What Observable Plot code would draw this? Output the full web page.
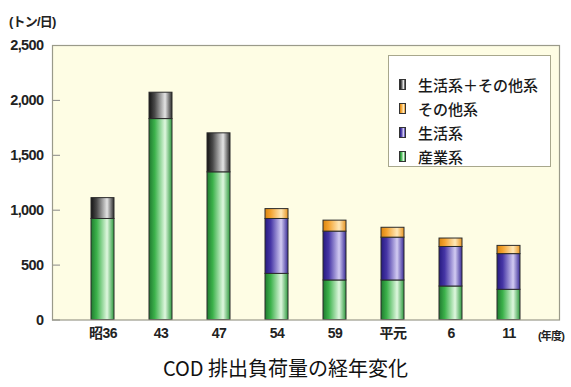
<!DOCTYPE html>
<html lang="ja">
<head>
<meta charset="utf-8">
<script src="https://cdn.jsdelivr.net/npm/d3@7"></script>
<script src="https://cdn.jsdelivr.net/npm/@observablehq/plot@0.6"></script>
<style>
  html, body { margin: 0; padding: 0; background: #fff; }
  #wrap { position: relative; width: 571px; height: 387px; overflow: hidden; }
  #wrap svg text { letter-spacing: -0.6px; }
  .unit { position: absolute; font-family: "Liberation Sans", "Noto Sans CJK JP", sans-serif; font-weight: bold; color: #222; white-space: nowrap; letter-spacing: -0.8px; }
  #legend { position: absolute; left: 388px; top: 55px; width: 163px; height: 112px; box-sizing: border-box;
            border: 1.5px solid #a8a78c; background: #fff; font-family: "Noto Sans CJK JP", sans-serif; font-size: 15px; font-weight: 500; color: #1a1a1a; }
  #legend .row { position: absolute; left: 10px; display: flex; align-items: center; height: 20px; }
  #legend .sw { width: 7px; height: 11px; border: 1px solid #333; margin-right: 12px; box-sizing: border-box; }
  #title { position: absolute; left: 0; top: 350px; width: 571px; height: 36px; line-height: 36px; text-align: center;
           font-family: "Noto Sans CJK JP", sans-serif; font-size: 20px; color: #111; }
</style>
</head>
<body>
<div id="wrap"></div>
<script>
// Fiscal years (Showa / Heisei era labels)
const years = ["昭36", "43", "47", "54", "59", "平元", "6", "11"];
// COD discharge load by source, tons per day
const industrial = [920, 1830, 1345, 420, 360, 360, 305, 275];    // 産業系
const domestic = [0, 0, 0, 500, 445, 390, 360, 325];              // 生活系
const other = [0, 0, 0, 90, 100, 90, 77, 75];                     // その他系
const domesticOther = [190, 240, 355, 0, 0, 0, 0, 0];             // 生活系＋その他系
const seriesNames = ["産業系", "生活系", "その他系", "生活系＋その他系"];
const yTicks = [0, 500, 1000, 1500, 2000, 2500];

// cylinder-like shading for each source
const shades = {
  "産業系": ["#1f7a2f", "#3cb24b", "#dff7df", "#2e9a3e"],
  "生活系": ["#261a80", "#4636a6", "#d2cbf2", "#3a2c98"],
  "その他系": ["#d98510", "#f4a330", "#ffe8b8", "#e89522"],
  "生活系＋その他系": ["#141414", "#4a4a4a", "#e4e4e4", "#2a2a2a"]
};
const gradId = {"産業系": "g-ind", "生活系": "g-dom", "その他系": "g-oth", "生活系＋その他系": "g-dot"};

const columns = [industrial, domestic, other, domesticOther];
const rows = [];
years.forEach((year, i) => {
  seriesNames.forEach((s, k) => {
    const v = columns[k][i];
    if (v > 0) rows.push({year, series: s, value: v});
  });
});

const axisFont = "'Liberation Sans', 'Noto Sans CJK JP', sans-serif";
const width = 571, height = 350;
const chart = Plot.plot({
  width, height,
  marginLeft: 52, marginRight: 12, marginTop: 45, marginBottom: 30.5,
  style: {background: "transparent", fontFamily: axisFont, color: "#222"},
  x: {domain: years, padding: 0.606, label: null},
  y: {domain: [0, 2500], label: null},
  color: {type: "identity"},
  marks: [
    Plot.frame({fill: "#fefde4", stroke: null}),
    Plot.axisY(yTicks, {tickSize: 8, dx: 8, tickFormat: () => "", stroke: "#888", label: null}),
    Plot.axisY(yTicks, {tickSize: 0, tickPadding: 9, tickFormat: d3.format(","), fontSize: 14.5, fontWeight: "bold", fill: "#222", label: null}),
    Plot.axisX({tickSize: 0, tickPadding: 8, fontSize: 14, fontWeight: "bold", fill: "#222", label: null}),
    Plot.barY(rows, Plot.stackY({
      x: "year", y: "value",
      fill: d => `url(#${gradId[d.series]})`,
      stroke: "#2a2a2a", strokeWidth: 1
    })),
    Plot.frame({stroke: "#9a9a8a", strokeWidth: 1.2})
  ]
});

// gradient definitions used by the bars
const ns = "http://www.w3.org/2000/svg";
const defs = document.createElementNS(ns, "defs");
for (const s of seriesNames) {
  const g = document.createElementNS(ns, "linearGradient");
  g.setAttribute("id", gradId[s]);
  g.setAttribute("x1", "0"); g.setAttribute("x2", "1"); g.setAttribute("y1", "0"); g.setAttribute("y2", "0");
  const c = shades[s];
  [[0, c[0]], [0.25, c[1]], [0.7, c[2]], [1, c[3]]].forEach(([o, col]) => {
    const st = document.createElementNS(ns, "stop");
    st.setAttribute("offset", o);
    st.setAttribute("stop-color", col);
    g.appendChild(st);
  });
  defs.appendChild(g);
}
chart.insertBefore(defs, chart.firstChild);

const wrap = document.getElementById("wrap");
chart.style.position = "absolute";
chart.style.left = "0"; chart.style.top = "0";
wrap.appendChild(chart);

// unit labels
const unitY = document.createElement("div");
unitY.className = "unit";
unitY.style.left = "9px"; unitY.style.top = "11px"; unitY.style.fontSize = "13px";
unitY.textContent = "(トン/日)";
wrap.appendChild(unitY);

const unitX = document.createElement("div");
unitX.className = "unit";
unitX.style.left = "538px"; unitX.style.top = "327px"; unitX.style.fontSize = "11px";
unitX.textContent = "(年度)";
wrap.appendChild(unitX);

// legend, top to bottom
const legend = document.createElement("div");
legend.id = "legend";
[...seriesNames].reverse().forEach((s, i) => {
  const row = document.createElement("div");
  row.className = "row";
  row.style.top = (18 + i * 24) + "px";
  const sw = document.createElement("span");
  sw.className = "sw";
  const c = shades[s];
  sw.style.background = `linear-gradient(to right, ${c[0]}, ${c[1]} 25%, ${c[2]} 70%, ${c[3]})`;
  const label = document.createElement("span");
  label.textContent = s;
  row.appendChild(sw); row.appendChild(label);
  legend.appendChild(row);
});
wrap.appendChild(legend);

const title = document.createElement("div");
title.id = "title";
title.textContent = "COD 排出負荷量の経年変化";
wrap.appendChild(title);
</script>
</body>
</html>
